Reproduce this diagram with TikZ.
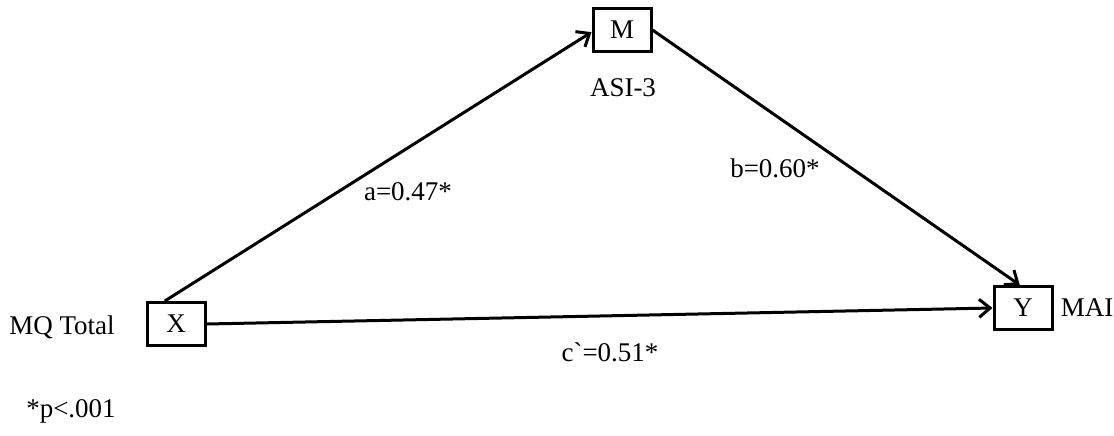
\documentclass[tikz,border=0pt]{standalone}
\usepackage{fontspec}
\setmainfont{Liberation Serif}[Ligatures=TeXOff]
\usetikzlibrary{arrows.meta}
\begin{document}
\begin{tikzpicture}[x=0.5pt,y=-0.5pt,
  var/.style={draw,line width=1.5pt,minimum width=29pt,minimum height=21.5pt,inner sep=0pt,font=\fontsize{13.5}{16}\selectfont},
  lbl/.style={inner sep=0pt,font=\fontsize{13.5}{16}\selectfont},
  path/.style={line width=1.5pt,-{Straight Barb[length=5.5pt,width=9pt,line width=1.5pt]}}]
\useasboundingbox (0,0) rectangle (1114,435);
\node[var] (M) at (622,30) {M};
\node[var] (X) at (176,324) {X};
\node[var] (Y) at (1023,308) {Y};
\node[lbl] (asi) at (623,88) {ASI-3};
\node[lbl] (mq) at (62,327) {MQ Total};
\node[lbl] (mai) at (1087,308) {MAI};
\node[lbl] (p) at (71,411) {*p<.001};
\node[lbl] (la) at (408,192) {a=0.47*};
\node[lbl] (lb) at (775,168) {b=0.60*};
\node[lbl] (lc) at (610,352) {c`=0.51*};
\draw[path] (X.116) -- (M.184);
\draw[path] (M.east) -- (Y.98);
\draw[path] (X.east) -- (Y.west);
\end{tikzpicture}
\end{document}
